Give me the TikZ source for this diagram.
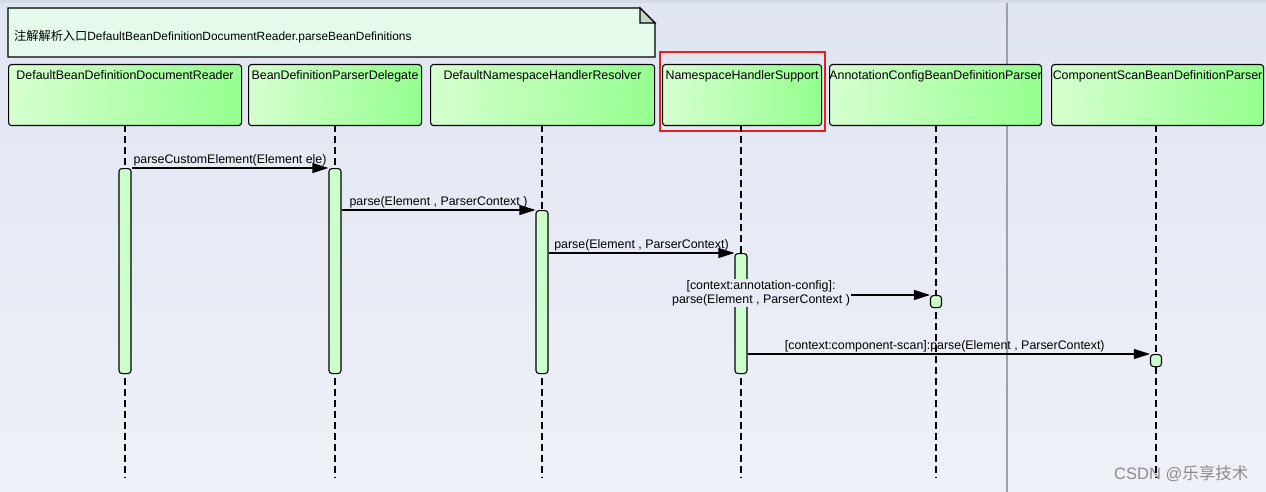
\documentclass[tikz,border=0pt]{standalone}
\usepackage{fontspec}
\setmainfont{Liberation Sans}
\newfontfamily\cjk{Noto Sans CJK SC}
\usetikzlibrary{arrows.meta}
\definecolor{bgtop}{RGB}{224,229,242}
\definecolor{bgbot}{RGB}{239,241,248}
\definecolor{bgmid}{RGB}{231,235,245}
\definecolor{strip}{RGB}{214,219,232}
\definecolor{boxl}{RGB}{214,255,208}
\definecolor{boxr}{RGB}{148,255,142}
\definecolor{actfill}{RGB}{204,255,204}
\definecolor{notefill}{RGB}{228,250,234}
\definecolor{foldfill}{RGB}{196,214,200}
\definecolor{sepgray}{RGB}{160,160,168}
\definecolor{hlred}{RGB}{235,30,30}
\tikzset{
  x=1pt, y=-1pt,
  lbl/.style={font=\fontsize{12.4}{14}\selectfont, inner sep=1pt},
  head/.style={draw=black, line width=1.1pt, rounded corners=3pt, left color=boxl, right color=boxr, anchor=north west, inner sep=0pt},
  life/.style={line width=1.1pt, dash pattern=on 7pt off 4pt},
  act/.style={draw=black, line width=1.1pt, fill=actfill, rounded corners=3pt, minimum width=12pt, inner sep=0pt, anchor=north},
  msg/.style={line width=1.1pt, -{Triangle[length=16pt,width=10pt]}},
}
\begin{document}
\begin{tikzpicture}
\useasboundingbox (0,0) rectangle (1266,492);
% background
\shade[top color=bgtop, bottom color=bgbot] (0,0) rectangle (1266,492);
\fill[strip] (0,0) rectangle (1266,3);
\draw[sepgray, line width=1.4pt] (1007,3) -- (1007,492);

% note
\path[draw=black, line width=1.1pt, fill=notefill] (8,8) -- (640,8) -- (655,23) -- (655,57) -- (8,57) -- cycle;
\path[draw=black, line width=1.1pt, fill=foldfill] (640,8) -- (640,23) -- (655,23) -- cycle;
\node[anchor=base west, inner sep=0pt] (note) at (14,41) {{\cjk\fontsize{12.2}{14}\selectfont 注解解析入口}{\fontsize{11.9}{14}\selectfont DefaultBeanDefinitionDocumentReader.parseBeanDefinitions}};

% highlight
\draw[hlred, line width=2pt] (660,52) rectangle (825,131);

% heads
\node[head, minimum width=233pt, minimum height=61pt] (h1) at (8,64) {};
\node[head, minimum width=173pt, minimum height=61pt] (h2) at (248,64) {};
\node[head, minimum width=224pt, minimum height=61pt] (h3) at (430,64) {};
\node[head, minimum width=159pt, minimum height=61pt] (h4) at (662,64) {};
\node[head, minimum width=212pt, minimum height=61pt] (h5) at (829,64) {};
\node[head, minimum width=212pt, minimum height=61pt] (h6) at (1051,64) {};
\foreach \h/\t in {h1/DefaultBeanDefinitionDocumentReader, h2/BeanDefinitionParserDelegate, h3/DefaultNamespaceHandlerResolver, h4/NamespaceHandlerSupport, h5/AnnotationConfigBeanDefinitionParser, h6/ComponentScanBeanDefinitionParser}{
  \begin{scope}
    \clip ([xshift=0.6pt]\h.south west) rectangle ([xshift=-0.6pt]\h.north east);
    \node[lbl, anchor=base] (\h t) at (\h.center |- 0,79.5) {\t};
  \end{scope}
}

% lifeline ends
\coordinate (e1) at (125,478);
\coordinate (e2) at (335,478);
\coordinate (e3) at (542,478);
\coordinate (e4) at (741,478);
\coordinate (e5) at (936,478);
\coordinate (e6) at (1156,478);
\draw[life] (125,125) -- (e1);
\draw[life] (335,125) -- (e2);
\draw[life] (542,125) -- (e3);
\draw[life] (741,125) -- (e4);
\draw[life] (936,125) -- (e5);
\draw[life] (1156,125) -- (e6);

% activations
\node[act, minimum height=205pt] (a1) at (125,168) {};
\node[act, minimum height=205pt] (a2) at (335,168) {};
\node[act, minimum height=163pt] (a3) at (542,210) {};
\node[act, minimum height=120pt] (a4) at (741,253) {};
\node[act, minimum width=11pt, minimum height=12pt] (a5) at (936,295) {};
\node[act, minimum width=11pt, minimum height=12pt] (a6) at (1156,354) {};

% messages
\draw[msg] (a1.north east) -- node[lbl, above] {parseCustomElement(Element ele)} (a2.north west);
\draw[msg] (a2.east |- a3.north) -- node[lbl, above] {parse(Element , ParserContext )} (a3.north west);
\draw[msg] (a3.east |- a4.north) -- node[lbl, above] {parse(Element , ParserContext)} (a4.north west);
\draw[msg] (a4.east |- a5.north) -- (a5.north west);
\node[lbl, align=center, fill=bgmid, inner sep=1.5pt, font=\fontsize{12.4}{14}\selectfont] (m4) at (761,293) {[context:annotation-config]:\\parse(Element , ParserContext )};
\draw[msg] (a4.east |- a6.north) -- node[lbl, above, xshift=-4pt] {[context:component-scan]:parse(Element , ParserContext)} (a6.north west);

% watermark
\node[anchor=base west, inner sep=0pt, text=black!45, font=\fontsize{16.5}{18}\selectfont] (wm) at (1114,479) {CSDN @{\cjk 乐享技术}};
\end{tikzpicture}
\end{document}
